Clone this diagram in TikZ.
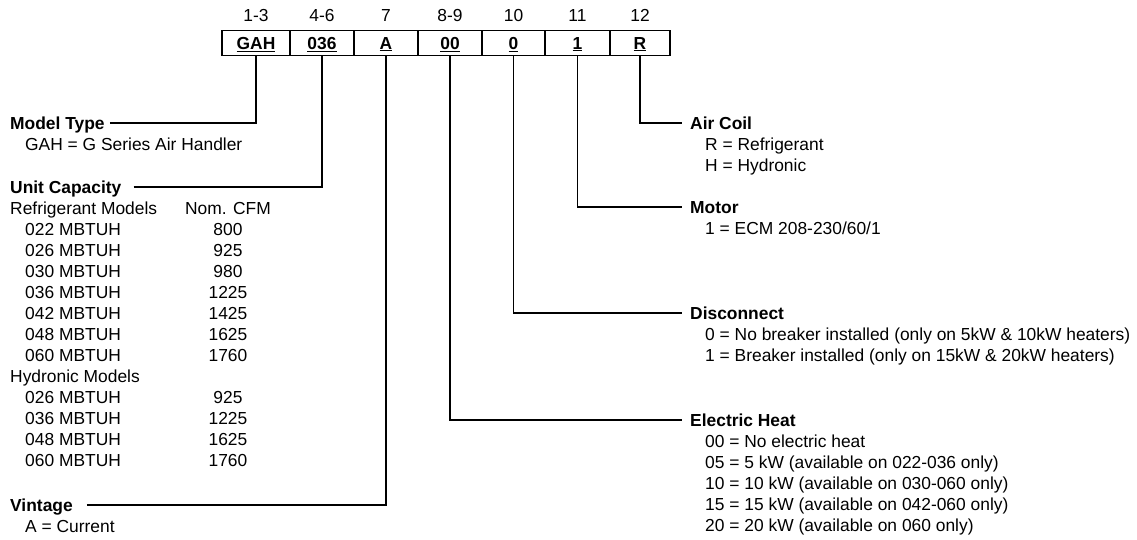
\documentclass[tikz,border=0pt]{standalone}
\usepackage{fontspec}
\setmainfont{Liberation Sans}
\usetikzlibrary{positioning}
\tikzset{txt/.style = {anchor = west, inner sep = 0, text height = 12.5pt, text depth = 0pt,
                       font = \fontsize{17.4}{21}\selectfont}}
\tikzset{head/.style = {txt, font = \fontsize{17.4}{21}\selectfont\bfseries}}
\tikzset{num/.style = {txt, anchor = center}}
\tikzset{cell/.style = {draw, line width = 1.8pt, num, minimum height = 25pt,
                        font = \fontsize{17.4}{21}\selectfont\bfseries}}
\tikzset{lead/.style = {line width = 1.1pt}}

\begin{document}
\begin{tikzpicture}[x = 1pt, y = -1pt]
          \useasboundingbox (0, 0) rectangle (1137, 539);
          % code boxes and digit positions
          \foreach \cx/\w/\code/\pos [count=\i] in {256/68/GAH/1-3, 322/64/036/4-6, 386/64/A/7,
                                                   450/64/00/8-9, 513.5/63/0/10, 577.5/65/1/11, 640/60/R/12}
            {
              \node [cell, minimum width = \w pt] (c\i) at (\cx, 43) {\underline{\code}};
              \node [num] (p\i) at (\cx, 15) {\pos};
            }
          % left column
          \node [head] (mtype) at (10, 123) {Model Type};
          \node [txt] (mtype1) at (25, 144) {GAH = G Series Air Handler};
          \node [head] (ucap) at (10, 187) {Unit Capacity};
          \node [txt] (refm) at (10, 208) {Refrigerant Models};
          \node [num] (cfm) at (228, 208) {Nom. CFM};
          \foreach \m/\v [count=\k] in {022/800, 026/925, 030/980, 036/1225, 042/1425, 048/1625, 060/1760}
            {
              \node [txt] (rm\k) at (25, {208 + 21*\k}) {\m\ MBTUH};
              \node [num] (rv\k) at (228, {208 + 21*\k}) {\v};
            }
          \node [txt] (hydm) at (10, 376) {Hydronic Models};
          \foreach \m/\v [count=\k] in {026/925, 036/1225, 048/1625, 060/1760}
            {
              \node [txt] (hm\k) at (25, {376 + 21*\k}) {\m\ MBTUH};
              \node [num] (hv\k) at (228, {376 + 21*\k}) {\v};
            }
          \node [head] (vint) at (10, 505) {Vintage};
          \node [txt] (vint1) at (25, 526) {A = Current};
          % right column
          \node [head] (acoil) at (690, 123) {Air Coil};
          \node [txt] (acoil1) at (705, 144) {R = Refrigerant};
          \node [txt] (acoil2) at (705, 165) {H = Hydronic};
          \node [head] (motor) at (690, 207) {Motor};
          \node [txt] (motor1) at (705, 228) {1 = ECM 208-230/60/1};
          \node [head] (disc) at (690, 313) {Disconnect};
          \node [txt] (disc1) at (705, 334) {0 = No breaker installed (only on 5kW \& 10kW heaters)};
          \node [txt] (disc2) at (705, 355) {1 = Breaker installed (only on 15kW \& 20kW heaters)};
          \node [head] (eheat) at (690, 420) {Electric Heat};
          \foreach \t [count=\k] in {00 = No electric heat, 05 = 5 kW (available on 022-036 only),
                                    10 = 10 kW (available on 030-060 only), 15 = 15 kW (available on 042-060 only),
                                    20 = 20 kW (available on 060 only)}
            \node [txt] (eheat\k) at (705, {420 + 21*\k}) {\t};
          % leaders
          \draw [lead] ([xshift = 5pt]mtype.east) -| (c1.south);
          \draw [lead] ([xshift = 12pt]ucap.east) -| (c2.south);
          \draw [lead] ([xshift = 14pt]vint.east) -| (c3.south);
          \draw [lead] (c4.south) |- ([xshift = -8pt]eheat.west);
          \draw [lead] (c5.south) |- ([xshift = -8pt]disc.west);
          \draw [lead] (c6.south) |- ([xshift = -8pt]motor.west);
          \draw [lead] (c7.south) |- ([xshift = -8pt]acoil.west);
        \end{tikzpicture}
\end{document}
